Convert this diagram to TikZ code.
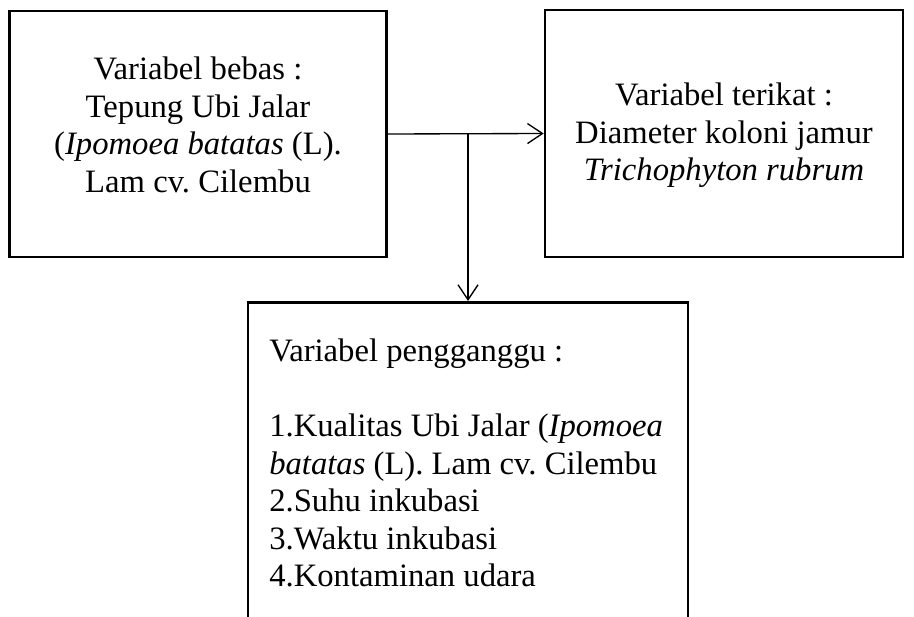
\documentclass[tikz,border=0pt]{standalone}
\usepackage{fontspec}
\setmainfont{Liberation Serif}
\usetikzlibrary{arrows.meta}
\frenchspacing

\tikzset{
  varbox/.style={draw, line width=2pt, align=center, inner sep=0pt},
  vartext/.style={align=left, inner sep=0pt},
  link/.style={line width=1pt, -{Straight Barb[length=11.25pt, width=15pt, line width=1pt]}},
  every node/.append style={font=\fontsize{24.5pt}{28.2pt}\selectfont}
}

\begin{document}
\begin{tikzpicture}[x=0.75pt,y=0.75pt,yscale=-1,xscale=1]

	\useasboundingbox (0,0) rectangle (914,617);
	\clip (0,0) rectangle (914,617);

	% boxes
	\node[varbox, minimum width=283pt, minimum height=184.5pt] (bebas) at (198,134)
		{\strut Variabel bebas :\\ Tepung Ubi Jalar\\ (\textit{Ipomoea batatas} (L).\\ Lam cv. Cilembu\rule[-16.5pt]{0pt}{0pt}};
	\node[varbox, minimum width=268.5pt, minimum height=185.25pt] (terikat) at (724,133.5)
		{\strut Variabel terikat :\\ Diameter koloni jamur\\ \textit{Trichophyton rubrum}};
	\node[varbox, anchor=north, minimum width=330pt, minimum height=262pt] (pengganggu) at (468,301) {};
	\node[vartext, anchor=north west] (pgtext) at (269,335)
		{\strut Variabel pengganggu :\\[28pt]
		 1.Kualitas Ubi Jalar (\textit{Ipomoea}\\
		 \textit{batatas} (L). Lam cv. Cilembu\\
		 2.Suhu inkubasi\\
		 3.Waktu inkubasi\\
		 4.Kontaminan udara};

	% connectors
	\coordinate (split) at (bebas.east -| pengganggu.north);
	\draw[link] (bebas.east) -- (terikat.west);
	\draw[link] (split) -- (pengganggu.north);

\end{tikzpicture}
\end{document}
